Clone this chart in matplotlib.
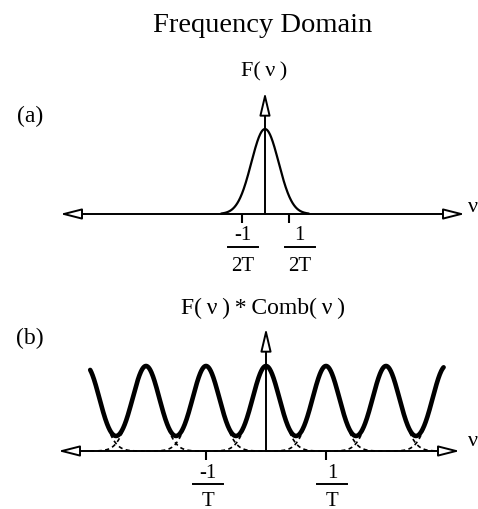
import numpy as np
import matplotlib.pyplot as plt

plt.rcParams['font.family'] = ['Liberation Serif', 'DejaVu Serif']

W, H = 478, 509

# ── data ──────────────────────────────────────────────────────
# (a) single spectrum F(nu), nu in units of 1/T
peak_a   = 1.0
sigma_a  = 0.29
extent_a = 0.92
ticks_a      = [-0.5, 0.5]
tick_num_a   = ["-1", "1"]
tick_den_a   = ["2T", "2T"]
tick_lblx_a  = [-0.47, 0.74]

# (b) F(nu) * Comb(nu): copies centred on n/T
centres_b = [-3, -2, -1, 0, 1, 2, 3]
peak_b    = 1.0
sigma_b   = 0.227
range_b   = (-2.93, 2.96)
ticks_b      = [-1, 1]
tick_num_b   = ["-1", "1"]
tick_den_b   = ["T", "T"]
tick_lblx_b  = [-0.97, 1.10]


def gauss(x, c, h, s):
    return h * np.exp(-(x - c) ** 2 / (2 * s ** 2))


fig = plt.figure(figsize=(W / 100, H / 100), dpi=100)


def panel(x0, y0, xs, ys):
    # overlay axes over the whole figure, origin at pixel (x0, y0)
    ax = fig.add_axes([0, 0, 1, 1])
    ax.set_xlim(-x0 / xs, (W - x0) / xs)
    ax.set_ylim(-(H - y0) / ys, y0 / ys)
    ax.axis("off")
    ax.patch.set_alpha(0)
    return ax


def axes_arrows(ax, xl, xr, ytop):
    ax.annotate("", xy=(xr, 0), xytext=(xl, 0),
                arrowprops=dict(arrowstyle="<|-|>,head_length=1.3,head_width=0.33",
                                fc="white", ec="black", lw=1.4,
                                shrinkA=0, shrinkB=0))
    ax.annotate("", xy=(0, ytop), xytext=(0, 0),
                arrowprops=dict(arrowstyle="-|>,head_length=1.4,head_width=0.33",
                                fc="white", ec="black", lw=1.4,
                                shrinkA=0, shrinkB=0))


def frac_labels(ax, xs, nums, dens, y_num, y_line, y_den, half):
    for x, n, d in zip(xs, nums, dens):
        ax.text(x, y_num, n, ha="center", va="center", fontsize=15)
        ax.plot([x - half, x + half], [y_line, y_line], color="black", lw=1.4)
        ax.text(x, y_den, d, ha="center", va="center", fontsize=15)


# ── (a) ───────────────────────────────────────────────────────
xs_a, ys = 47.0, 85.0
ax_a = panel(265, 214, xs_a, ys)
axes_arrows(ax_a, (60 - 265) / xs_a, (465 - 265) / xs_a, (214 - 92) / ys)
xa = np.linspace(-extent_a, extent_a, 300)
ax_a.plot(xa, gauss(xa, 0, peak_a, sigma_a), color="black", lw=1.6)
ax_a.vlines(ticks_a, -0.105, 0, color="black", lw=1.5)
frac_labels(ax_a, tick_lblx_a, tick_num_a, tick_den_a,
            -(235 - 214) / ys, -(247 - 214) / ys, -(266 - 214) / ys, 15 / xs_a)

# ── (b) ───────────────────────────────────────────────────────
xs_b = 60.0
ax_b = panel(266, 451, xs_b, ys)
axes_arrows(ax_b, (58 - 266) / xs_b, (460 - 266) / xs_b, (451 - 328) / ys)
xb = np.linspace(range_b[0], range_b[1], 1200)
total = np.zeros_like(xb)
for c in centres_b:
    g = gauss(xb, c, peak_b, sigma_b)
    total += g
    m = np.abs(xb - c) < 1.0
    ax_b.plot(xb[m], g[m], color="black", lw=1.2, ls=(0, (2.5, 2)))
ax_b.plot(xb, total, color="black", lw=3.3, solid_capstyle="round")
ax_b.vlines(ticks_b, -0.105, 0, color="black", lw=1.5)
frac_labels(ax_b, tick_lblx_b, tick_num_b, tick_den_b,
            -(474 - 451) / ys, -(484 - 451) / ys, -(501 - 451) / ys, 15 / xs_b)

# ── text ──────────────────────────────────────────────────────
def ftext(x, y, s, **kw):
    fig.text(x / W, 1 - y / H, s, ha="center", va="center", **kw)

ts = "\u2009"
ftext(263, 26, "Frequency Domain", fontsize=20.5)
ftext(264, 72, f"F({ts}ν{ts})", fontsize=16)
ftext(263, 308, f"F({ts}ν{ts}){ts}*{ts}Comb({ts}ν{ts})", fontsize=17)
ftext(30, 116, "(a)", fontsize=17)
ftext(30, 338, "(b)", fontsize=17)
fig.text(468 / W, 1 - 208 / H, "ν", ha="left", va="center", fontsize=16)
fig.text(468 / W, 1 - 441 / H, "ν", ha="left", va="center", fontsize=16)

plt.savefig("out.png", dpi=100)
